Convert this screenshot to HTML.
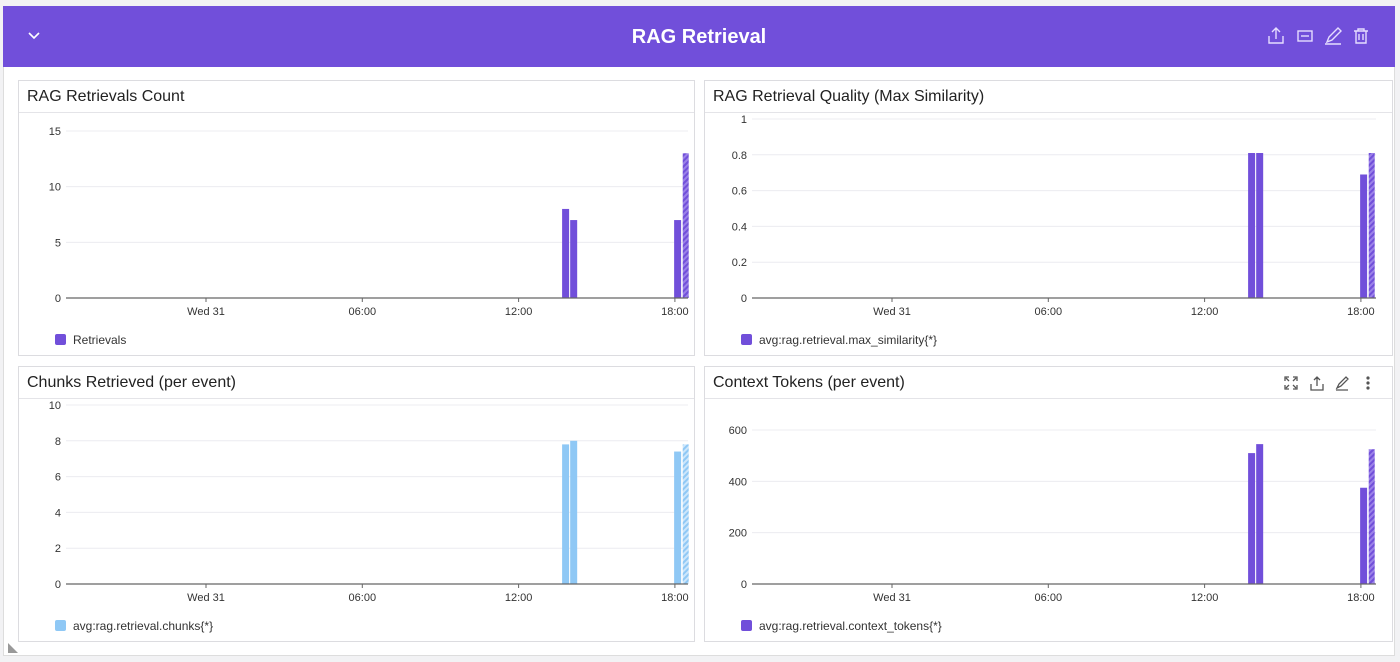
<!DOCTYPE html>
<html><head><meta charset="utf-8"><style>
body{margin:0;width:1400px;height:662px;background:#f2f2f4;font-family:"Liberation Sans",sans-serif;position:relative;overflow:hidden}
.wrap{position:absolute;left:3px;top:6px;width:1392px;height:650px;background:#fff;border:1px solid #ddd;box-sizing:border-box}
.hdr{position:absolute;left:3px;top:6px;width:1392px;height:61px;background:#714fda}
.hdr h1{margin:0;position:absolute;left:0;right:0;top:20px;text-align:center;color:#fff;font-size:20px;font-weight:bold}
.panel{position:absolute;border:1px solid #dcdce0;background:#fff;box-sizing:border-box}
.ptitle{position:absolute;left:0;right:0;top:0;height:32px;border-bottom:1px solid #e4e4e8;font-size:16px;color:#222;padding:7px 0 0 8px;box-sizing:border-box}
svg.c{position:absolute;left:0;top:0}
</style></head><body>
<div class="wrap"></div>
<div class="hdr">
<svg style="position:absolute;left:24px;top:25px" width="14" height="10"><path d="M2 2 L7 7 L12 2" stroke="#fff" stroke-width="1.6" fill="none"/></svg>
<h1>RAG Retrieval</h1>
<svg style="position:absolute;left:1262px;top:20px" width="120" height="22" stroke="#e6ddff" stroke-width="1.4" fill="none">
<g><path d="M4 10 V17 H18 V10 M11 2 V13 M7 6 L11 2 L15 6"/></g>
<g><rect x="33" y="5" width="14" height="10"/><path d="M36 10 H44"/></g>
<g><path d="M62 16 L64 11 L73 2 L76 5 L67 14 Z M60 18 H76"/></g>
<g><path d="M89 5 H103 M93 5 V3 H99 V5 M91 5 V17 H101 V5 M94 8 V14 M98 8 V14"/></g>
</svg>
</div>
<div class="panel" style="left:18px;top:80px;width:677px;height:276px"><div class="ptitle">RAG Retrievals Count</div></div>
<div class="panel" style="left:704px;top:80px;width:689px;height:276px"><div class="ptitle">RAG Retrieval Quality (Max Similarity)</div></div>
<div class="panel" style="left:18px;top:366px;width:677px;height:276px"><div class="ptitle">Chunks Retrieved (per event)</div></div>
<div class="panel" style="left:704px;top:366px;width:689px;height:276px"><div class="ptitle">Context Tokens (per event)</div>
<svg style="position:absolute;left:578px;top:8px" width="100" height="18" stroke="#555" stroke-width="1.3" fill="none">
<g><path d="M2 6 V2 H6 M10 2 H14 V6 M2 10 V14 H6 M10 14 H14 V10 M3 3 L6 6 M13 3 L10 6 M3 13 L6 10 M13 13 L10 10"/></g>
<g><path d="M28 9 V15 H40 V9 M34 2 V11 M31 5 L34 2 L37 5"/></g>
<g><path d="M54 13 L56 9 L63 2 L65 4 L58 11 Z M53 15 H65"/></g>
<g fill="#555" stroke="none"><circle cx="85" cy="3" r="1.6"/><circle cx="85" cy="8" r="1.6"/><circle cx="85" cy="13" r="1.6"/></g>
</svg></div>
<svg class="c" id="chart" width="1400" height="662">
<defs>
<pattern id="hp" width="4" height="4" patternUnits="userSpaceOnUse" patternTransform="rotate(45)"><rect width="4" height="4" fill="#9b82e8"/><rect width="2" height="4" fill="#714fda"/></pattern>
<pattern id="hb" width="4" height="4" patternUnits="userSpaceOnUse" patternTransform="rotate(45)"><rect width="4" height="4" fill="#cde6fb"/><rect width="2" height="4" fill="#8fc8f5"/></pattern>
</defs>
</svg>
<svg style="position:absolute;left:8px;top:643px" width="10" height="10"><path d="M0 0 L10 10 H0 Z" fill="#999"/></svg>
<script>
const barHours=[13.67,13.98,17.97,18.3];
const partial=[false,false,false,true];
const countValues=[8,7,7,13];
const simValues=[0.81,0.81,0.69,0.81];
const chunkValues=[7.8,8.0,7.4,7.8];
const tokenValues=[510,545,375,525];
const xTickHours=[0,6,12,18];
const xTickLabels=["Wed 31","06:00","12:00","18:00"];
const countTicks=[0,5,10,15];
const simTicks=[0,0.2,0.4,0.6,0.8,1];
const chunkTicks=[0,2,4,6,8,10];
const tokenTicks=[0,200,400,600];
const svg=document.getElementById('chart');
const NS='http://www.w3.org/2000/svg';
function mk(t,a){const e=document.createElementNS(NS,t);for(const k in a)e.setAttribute(k,a[k]);svg.appendChild(e);return e;}
function chart(c){
  const xs=h=>c.h0+h*26.05;
  const ys=v=>c.y0-(v/c.ymax)*(c.y0-c.ytop);
  c.ticks.forEach((t,i)=>{
    const y=ys(t);
    if(t>0){const g=mk('line',{x1:c.ax0,x2:c.ax1,y1:y,y2:y,stroke:'#ececf0'});
    
    }
    const l=mk('text',{x:c.ax0-5,y:y+4,'text-anchor':'end','font-size':11,fill:'#333'});
    
    
    l.textContent=String(t);
  });
  c.vals.forEach((v,i)=>{
    const x=xs(barHours[i]);const y=ys(v);
    const b=mk('rect',{x:x,y:y,width:i===c.vals.length-1?6:7,height:c.y0-y,fill:partial[i]?c.hatch:c.color});
    
    
  });
  const ax=mk('line',{x1:c.ax0,x2:c.ax1,y1:c.y0,y2:c.y0,stroke:'#666','stroke-width':1.2});
  
  
  xTickHours.forEach((h,i)=>{
    const x=xs(h);
    const tk=mk('line',{x1:x,x2:x,y1:c.y0,y2:c.y0+4,stroke:'#666'});
    
    
    const l=mk('text',{x:x,y:c.y0+17,'text-anchor':'middle','font-size':11,fill:'#333'});
    
    
    l.textContent=xTickLabels[i];
  });
  const sw=mk('rect',{x:c.lx,y:c.ly-6,width:11,height:11,rx:2,fill:c.color});
  
  
  const lt=mk('text',{x:c.lx+18,y:c.ly+4,'font-size':12,fill:'#333'});
  
  
  lt.textContent=c.legend;
}
chart({vals:countValues,ticks:countTicks,ymax:15,y0:298,ytop:131,h0:206,ax0:66,ax1:688,color:'#714fda',hatch:'url(#hp)',lx:55,ly:340,legend:'Retrievals'});
chart({vals:simValues,ticks:simTicks,ymax:1,y0:298,ytop:119,h0:892,ax0:752,ax1:1376,color:'#714fda',hatch:'url(#hp)',lx:741,ly:340,legend:'avg:rag.retrieval.max_similarity{*}'});
chart({vals:chunkValues,ticks:chunkTicks,ymax:10,y0:584,ytop:405,h0:206,ax0:66,ax1:688,color:'#8fc8f5',hatch:'url(#hb)',lx:55,ly:626,legend:'avg:rag.retrieval.chunks{*}'});
chart({vals:tokenValues,ticks:tokenTicks,ymax:600,y0:584,ytop:430,h0:892,ax0:752,ax1:1376,color:'#714fda',hatch:'url(#hp)',lx:741,ly:626,legend:'avg:rag.retrieval.context_tokens{*}'});
</script>
</body></html>
